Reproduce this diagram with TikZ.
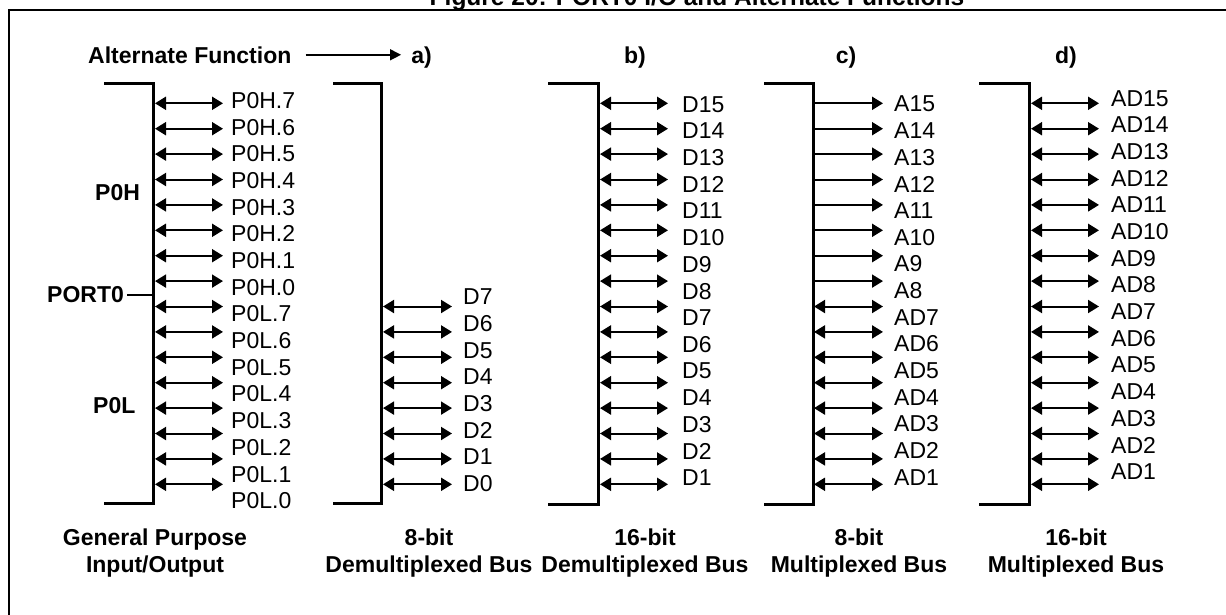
\documentclass[tikz,border=0pt]{standalone}
\usepackage{fontspec}
\setmainfont{Liberation Sans}
\usetikzlibrary{arrows.meta}
\tikzset{pin/.style={anchor=west,inner sep=0pt,font=\fontsize{23}{27}\selectfont}}
\tikzset{hdr/.style={inner sep=0pt,font=\fontsize{23}{27}\selectfont\bfseries}}
\tikzset{bus/.style={line width=3pt}}
\tikzset{bidir/.style={{Triangle[length=11pt,width=13pt]}-{Triangle[length=11pt,width=13pt]},line width=2pt}}
\tikzset{outdir/.style={-{Triangle[length=11pt,width=13pt]},line width=2pt}}
\newcommand{\busframe}[3]{
    \draw[bus] (#1,83) -- (#2,83) -- (#2,#3) -- (#1,#3);
}

\begin{document}
\begin{tikzpicture}[x=1pt,y=-1pt]
        \useasboundingbox (0,0) rectangle (1226,614);
        \draw[line width=2.5pt] (9,10) rectangle (1240,640);
        \node[hdr,anchor=base,font=\fontsize{24.5}{27}\selectfont\bfseries] (ttl) at (697,5)
            {Figure 20: PORT0 I/O and Alternate Functions};

        % headings
        \node[hdr,anchor=base west] (alt) at (88,63) {Alternate Function};
        \node[hdr,anchor=base] (ha) at (421.5,63) {a)};
        \node[hdr,anchor=base] (hb) at (635,63) {b)};
        \node[hdr,anchor=base] (hc) at (846,63) {c)};
        \node[hdr,anchor=base] (hd) at (1066,63) {d)};
        \coordinate (altend) at ([xshift=-10pt]ha.west |- alt.east);
        \draw[-{Triangle[length=11pt,width=11pt]},line width=1.5pt]
            ([xshift=14pt]alt.east) -- (altend);

        % general purpose I/O
        \busframe{104}{153}{503}
        \node[hdr,anchor=west] (poh) at (95,193) {P0H};
        \node[hdr,anchor=west] (pol) at (93,406) {P0L};
        \node[hdr,anchor=west] (port) at (47,295) {PORT0};
        \coordinate (portin) at (153,295);
        \draw[line width=2pt] ([xshift=3pt]port.east) -- (portin);
        \foreach \i in {0,...,15} {
            \coordinate (gs\i) at (155,103.3+25.4*\i);
            \coordinate (ge\i) at (223,103.3+25.4*\i);
            \draw[bidir] (gs\i) -- (ge\i);
        }
        \foreach \t [count=\i from 0] in {P0H.7,P0H.6,P0H.5,P0H.4,P0H.3,P0H.2,P0H.1,P0H.0,
            P0L.7,P0L.6,P0L.5,P0L.4,P0L.3,P0L.2,P0L.1,P0L.0}
            \node[pin] (gl\i) at (231,100.7+26.67*\i) {\t};
        \node[hdr,align=center,anchor=north] (capg) at (155,529) {General Purpose\\Input/Output};

        % a) 8-bit demultiplexed
        \busframe{333}{381}{503}
        \foreach \t [count=\j from 0] in {7,6,...,0} {
            \coordinate (as\j) at (383,306.5+25.4*\j);
            \coordinate (ae\j) at (452,306.5+25.4*\j);
            \draw[bidir] (as\j) -- (ae\j);
            \node[pin] (al\j) at (463,297+26.67*\j) {D\t};
        }
        \node[hdr,align=center,anchor=north] (capa) at (429,529) {8-bit\\Demultiplexed Bus};

        % b) 16-bit demultiplexed
        \busframe{548}{598}{504}
        \foreach \i in {0,...,15} {
            \coordinate (bs\i) at (600,103.3+25.4*\i);
            \coordinate (be\i) at (668,103.3+25.4*\i);
            \draw[bidir] (bs\i) -- (be\i);
        }
        \foreach \t [count=\i from 0] in {15,14,...,1}
            \node[pin] (bl\i) at (682,104.4+26.67*\i) {D\t};
        \node[hdr,align=center,anchor=north] (capb) at (645,529) {16-bit\\Demultiplexed Bus};

        % c) 8-bit multiplexed
        \busframe{764}{813}{504}
        \foreach \i in {0,...,15} {
            \coordinate (cs\i) at (814,103.3+25.4*\i);
            \coordinate (ce\i) at (883,103.3+25.4*\i);
            \ifnum\i<8
                \draw[outdir] (cs\i) -- (ce\i);
            \else
                \draw[bidir] (cs\i) -- (ce\i);
            \fi
        }
        \foreach \t [count=\i from 0] in {A15,A14,A13,A12,A11,A10,A9,A8,
            AD7,AD6,AD5,AD4,AD3,AD2,AD1}
            \node[pin] (cl\i) at (894,104+26.67*\i) {\t};
        \node[hdr,align=center,anchor=north] (capc) at (859,529) {8-bit\\Multiplexed Bus};

        % d) 16-bit multiplexed
        \busframe{979}{1029}{504}
        \foreach \i in {0,...,15} {
            \coordinate (ds\i) at (1031,103.3+25.4*\i);
            \coordinate (de\i) at (1099,103.3+25.4*\i);
            \draw[bidir] (ds\i) -- (de\i);
        }
        \foreach \t [count=\i from 0] in {15,14,...,1}
            \node[pin] (dl\i) at (1111,98.3+26.67*\i) {AD\t};
        \node[hdr,align=center,anchor=north] (capd) at (1076,529) {16-bit\\Multiplexed Bus};
    \end{tikzpicture}
\end{document}
